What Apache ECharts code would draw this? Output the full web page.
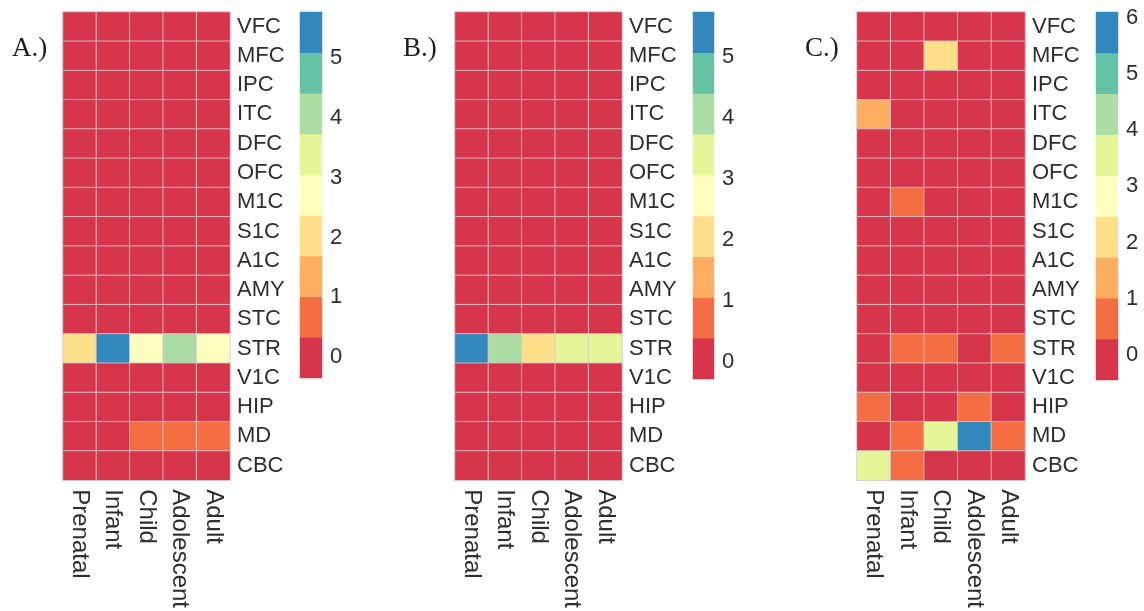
<!DOCTYPE html>
<html>
<head>
<meta charset="utf-8">
<script src="https://cdn.jsdelivr.net/npm/echarts@6/dist/echarts.min.js"></script>
<style>
html,body{margin:0;padding:0;background:#fff;}
#chart{width:1144px;height:611px;}
</style>
</head>
<body>
<div id="chart"></div>
<script>
// ---- data ----
const regions = ['VFC','MFC','IPC','ITC','DFC','OFC','M1C','S1C','A1C','AMY','STC','STR','V1C','HIP','MD','CBC'];
const stages = ['Prenatal','Infant','Child','Adolescent','Adult'];
const palette = ['#D6354B','#F46D43','#FDAE61','#FEE08B','#FFFFBF','#E6F598','#ABDDA4','#66C2A5','#3288BD'];

// values per region (rows) x stage (columns)
const valuesA = [
  [0,0,0,0,0],[0,0,0,0,0],[0,0,0,0,0],[0,0,0,0,0],[0,0,0,0,0],[0,0,0,0,0],
  [0,0,0,0,0],[0,0,0,0,0],[0,0,0,0,0],[0,0,0,0,0],[0,0,0,0,0],
  [2.0,5.5,2.7,4.1,2.7],
  [0,0,0,0,0],[0,0,0,0,0],
  [0,0,0.7,0.7,0.7],
  [0,0,0,0,0]
];
const valuesB = [
  [0,0,0,0,0],[0,0,0,0,0],[0,0,0,0,0],[0,0,0,0,0],[0,0,0,0,0],[0,0,0,0,0],
  [0,0,0,0,0],[0,0,0,0,0],[0,0,0,0,0],[0,0,0,0,0],[0,0,0,0,0],
  [5.4,4.1,2.1,3.4,3.4],
  [0,0,0,0,0],[0,0,0,0,0],[0,0,0,0,0],[0,0,0,0,0]
];
const valuesC = [
  [0,0,0,0,0],
  [0,0,2.1,0,0],
  [0,0,0,0,0],
  [1.4,0,0,0,0],
  [0,0,0,0,0],[0,0,0,0,0],
  [0,0.65,0,0,0],
  [0,0,0,0,0],[0,0,0,0,0],[0,0,0,0,0],[0,0,0,0,0],
  [0,0.65,0.65,0,0.65],
  [0,0,0,0,0],
  [0.65,0,0,0.65,0],
  [0,0.65,3.55,5.75,0.65],
  [3.55,0.65,0,0,0]
];
const legendRangeA = [-0.35, 5.77];
const legendRangeB = [-0.28, 5.74];
const legendRangeC = [-0.44, 6.1];
const legendTicksA = [0,1,2,3,4,5];
const legendTicksB = [0,1,2,3,4,5];
const legendTicksC = [0,1,2,3,4,5,6];
const panelLabels = ['A.)','B.)','C.)'];

// ---- layout ----
const FONT = 'Liberation Sans, Arial, sans-serif';
const TXT = '#2e2e2e';
const panels = [
  {label: panelLabels[0], values: valuesA, range: legendRangeA, ticks: legendTicksA,
   heat: {left: 63, top: 12, width: 167, height: 470}, bar: {left: 300, top: 12, width: 22, height: 366}, titleLeft: 12},
  {label: panelLabels[1], values: valuesB, range: legendRangeB, ticks: legendTicksB,
   heat: {left: 455, top: 12, width: 167, height: 471}, bar: {left: 693, top: 12, width: 21, height: 367}, titleLeft: 403},
  {label: panelLabels[2], values: valuesC, range: legendRangeC, ticks: legendTicksC,
   heat: {left: 857, top: 12, width: 168, height: 472}, bar: {left: 1096, top: 12, width: 22, height: 368}, titleLeft: 805}
];

const option = {
  animation: false,
  backgroundColor: '#fff',
  title: [], grid: [], xAxis: [], yAxis: [], visualMap: [], series: []
};

panels.forEach((p, pi) => {
  const n = palette.length;
  const step = (p.range[1] - p.range[0]) / n;
  const pieces = palette.map((c, k) => ({
    gte: k === 0 ? -100 : p.range[0] + k * step,
    lt: k === n - 1 ? 100 : p.range[0] + (k + 1) * step,
    color: c
  }));

  option.title.push({
    text: p.label, left: p.titleLeft, top: 35, padding: 0,
    textStyle: {fontFamily: 'Liberation Serif, Times New Roman, serif', fontWeight: 'normal', fontSize: 27, color: '#1e1e1e'}
  });

  const gHeat = option.grid.length;
  option.grid.push(Object.assign({containLabel: false}, p.heat));
  const gBar = option.grid.length;
  option.grid.push(Object.assign({containLabel: false}, p.bar));

  const xHeat = option.xAxis.length;
  option.xAxis.push({
    type: 'category', gridIndex: gHeat, data: stages, position: 'bottom',
    axisLine: {show: false}, axisTick: {show: false}, splitLine: {show: false},
    axisLabel: {interval: 0, rotate: -90, margin: 9, fontSize: 24, color: TXT, fontFamily: FONT}
  });
  const xBar = option.xAxis.length;
  option.xAxis.push({type: 'category', gridIndex: gBar, data: ['c'], show: false});

  const yHeat = option.yAxis.length;
  option.yAxis.push({
    type: 'category', gridIndex: gHeat, data: regions, inverse: true, position: 'right',
    axisLine: {show: false}, axisTick: {show: false}, splitLine: {show: false},
    axisLabel: {interval: 0, margin: 7, fontSize: 22, color: TXT, fontFamily: FONT}
  });
  const yBar = option.yAxis.length;
  option.yAxis.push({type: 'category', gridIndex: gBar, data: palette.map((c, k) => k), show: false});
  option.yAxis.push({
    type: 'value', gridIndex: gBar, min: p.range[0], max: p.range[1], position: 'right',
    axisLine: {show: false}, axisTick: {show: false}, splitLine: {show: false},
    axisLabel: {customValues: p.ticks, margin: 8, fontSize: 22, color: TXT, fontFamily: FONT,
      formatter: v => (Math.abs(v - Math.round(v)) < 1e-6 ? String(Math.round(v)) : '')}
  });

  const heatData = [];
  p.values.forEach((row, i) => row.forEach((v, j) => heatData.push([j, i, v])));
  const barData = palette.map((c, k) => [0, k, p.range[0] + (k + 0.5) * step]);

  const sHeat = option.series.length;
  option.series.push({
    type: 'heatmap', xAxisIndex: xHeat, yAxisIndex: yHeat, data: heatData,
    itemStyle: {borderColor: 'rgba(215,200,205,0.85)', borderWidth: 1},
    emphasis: {disabled: true}
  });
  const sBar = option.series.length;
  option.series.push({
    type: 'heatmap', xAxisIndex: xBar, yAxisIndex: yBar, data: barData,
    itemStyle: {borderWidth: 0},
    emphasis: {disabled: true}
  });

  option.visualMap.push({
    type: 'piecewise', show: false, seriesIndex: [sHeat, sBar], dimension: 2, pieces: pieces
  });
});

const chart = echarts.init(document.getElementById('chart'), null, {renderer: 'canvas'});
chart.setOption(option);
</script>
</body>
</html>
